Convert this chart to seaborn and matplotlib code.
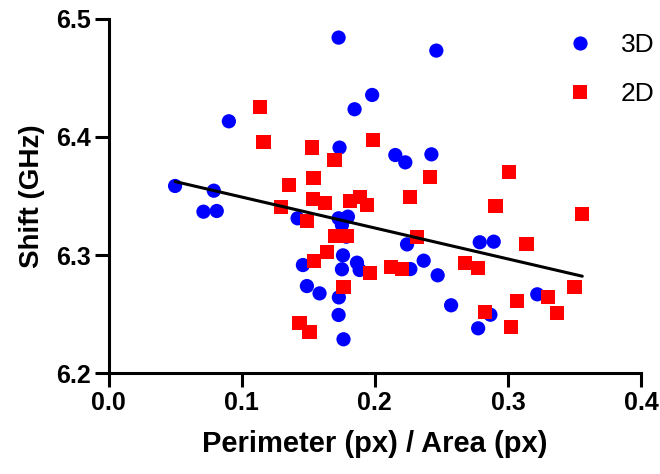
import numpy as np
import pandas as pd
import matplotlib
matplotlib.use("Agg")
import matplotlib.pyplot as plt
import seaborn as sns

# values
x_3d = [0.050, 0.0713, 0.0791, 0.0813, 0.0904, 0.142, 0.146, 0.149, 0.1585,
        0.1728, 0.1728, 0.173, 0.1735, 0.1728, 0.1753, 0.1753, 0.1761, 0.1765,
        0.1786, 0.1798, 0.1848, 0.1866, 0.1886, 0.198, 0.2154, 0.2229, 0.2242,
        0.2267, 0.2367, 0.2425, 0.2462, 0.2472, 0.2573, 0.2776, 0.2788, 0.2868,
        0.2893, 0.322]
y_3d = [6.3585, 6.3367, 6.3545, 6.3373, 6.4133, 6.3311, 6.2915, 6.2737, 6.2675,
        6.4842, 6.3311, 6.2641, 6.391, 6.2492, 6.3254, 6.2879, 6.2997, 6.2286,
        6.3155, 6.3325, 6.4235, 6.2935, 6.2873, 6.4356, 6.3847, 6.3785, 6.309,
        6.2881, 6.2952, 6.3853, 6.4732, 6.2828, 6.2574, 6.2379, 6.3108, 6.2494,
        6.3113, 6.2667]

x_2d = [0.1139, 0.1164, 0.1295, 0.1355, 0.1435, 0.149, 0.151, 0.153, 0.1535,
        0.154, 0.1545, 0.1628, 0.164, 0.1698, 0.1703, 0.1765, 0.1791, 0.1816,
        0.1886, 0.1941, 0.1966, 0.1984, 0.2122, 0.2204, 0.2267, 0.2317, 0.2417,
        0.2675, 0.2776, 0.2826, 0.2906, 0.3006, 0.3024, 0.3069, 0.3139, 0.3299,
        0.337, 0.350, 0.3558]
y_2d = [6.4252, 6.3955, 6.3404, 6.359, 6.2427, 6.329, 6.2345, 6.391, 6.3472,
        6.3655, 6.2952, 6.3443, 6.3028, 6.3805, 6.3161, 6.2726, 6.3161, 6.346,
        6.3494, 6.3424, 6.285, 6.3975, 6.2901, 6.2879, 6.3494, 6.3155, 6.3664,
        6.293, 6.2887, 6.252, 6.3415, 6.3701, 6.2393, 6.2613, 6.3093, 6.2641,
        6.2511, 6.2726, 6.3347]

df = pd.DataFrame({
    "ratio": x_3d + x_2d,
    "shift": y_3d + y_2d,
    "group": ["3D"] * len(x_3d) + ["2D"] * len(x_2d),
})

sns.set_style("ticks")
plt.rcParams["font.family"] = ["Liberation Sans", "DejaVu Sans"]
plt.rcParams["text.color"] = "black"
plt.rcParams["axes.labelcolor"] = "black"
plt.rcParams["xtick.color"] = "black"
plt.rcParams["ytick.color"] = "black"

fig = plt.figure(figsize=(6.6, 4.74), dpi=100)
ax = fig.add_axes([0.1644, 0.213, 0.807, 0.747])

# linear fit over all points
sns.regplot(data=df, x="ratio", y="shift", scatter=False, ci=None,
            color="black", line_kws={"linewidth": 2.2}, ax=ax)
sns.scatterplot(data=df, x="ratio", y="shift", hue="group", style="group",
                palette={"3D": "#0000ff", "2D": "#ff0000"},
                markers={"3D": "o", "2D": "s"}, s=105, linewidth=0,
                ax=ax, zorder=1)

ax.set_xlim(0, 0.4)
ax.set_ylim(6.2, 6.5)
ax.set_xticks([0.0, 0.1, 0.2, 0.3, 0.4])
ax.set_yticks([6.2, 6.3, 6.4, 6.5])
ax.set_xticklabels(["0.0", "0.1", "0.2", "0.3", "0.4"])
ax.set_yticklabels(["6.2", "6.3", "6.4", "6.5"])
ax.set_xlabel("Perimeter (px) / Area (px)", fontsize=21, fontweight="bold", labelpad=11)
ax.set_ylabel("Shift (GHz)", fontsize=20, fontweight="bold", labelpad=8)
for lbl in ax.get_xticklabels() + ax.get_yticklabels():
    lbl.set_fontweight("bold")
ax.tick_params(labelsize=18, width=2.2, length=10, color="black", pad=3)
sns.despine(ax=ax)
for sp in ["left", "bottom"]:
    ax.spines[sp].set_linewidth(2.2)
    ax.spines[sp].set_color("black")

ax.legend(loc="upper left", bbox_to_anchor=(0.836, 0.961), frameon=False,
          fontsize=19, markerscale=1.0, handletextpad=0.55, labelspacing=0.95,
          borderpad=0, borderaxespad=0, title=None)

fig.savefig("out.png", dpi=100)
